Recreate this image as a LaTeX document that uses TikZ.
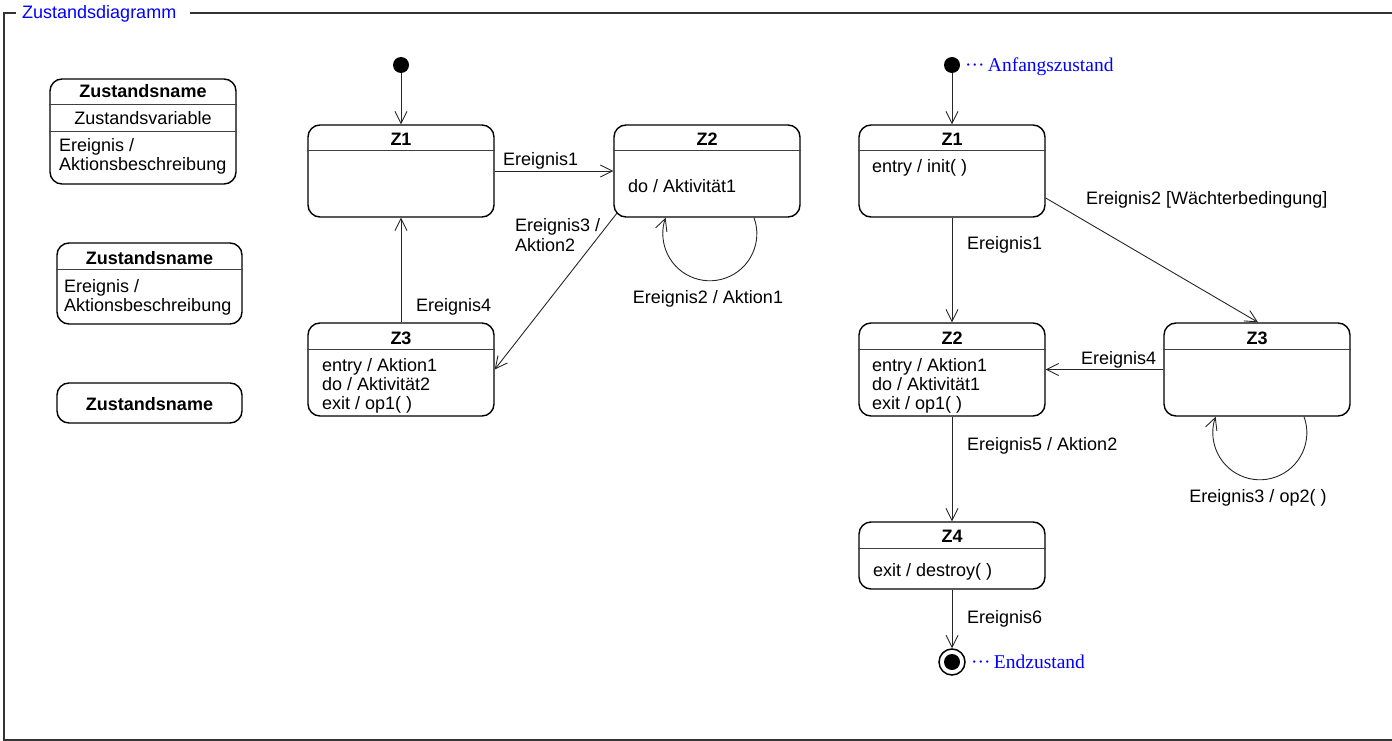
\documentclass[tikz,border=0pt]{standalone}
\usepackage{fontspec}
\setmainfont{Liberation Sans}
\newfontfamily\annofont{Liberation Serif}
\usetikzlibrary{arrows.meta}
\tikzset{
  state/.style={draw=black, line width=1.4pt, rounded corners=12pt, minimum width=186pt, inner sep=0pt},
  sep/.style={draw=black!75, line width=0.9pt},
  arr/.style={draw=black!85, line width=0.9pt, -{Straight Barb[length=12pt,width=12pt,line width=0.9pt]}},
  lbl/.style={anchor=base west, inner sep=0pt},
  ctr/.style={anchor=base, inner sep=0pt},
  ttl/.style={anchor=base, inner sep=0pt, font=\fontsize{18}{20}\selectfont\bfseries},
  dot/.style={circle, fill=black, minimum size=16pt, inner sep=0pt},
  frame/.style={draw=black!80, line width=1.5pt},
  anno/.style={anchor=base west, inner sep=0pt, text=blue, font=\annofont\fontsize{19.5}{22}\selectfont},
}
\begin{document}
\begin{tikzpicture}[x=1pt,y=1pt,font=\fontsize{18}{20}\selectfont]
\useasboundingbox (0,0) rectangle (1392,-741);
% frame
\draw[frame] (16,-13) -- (4,-13) -- (4,-740) -- (1392,-740);
\draw[frame] (190,-13) -- (1392,-13);
\node[lbl, text=blue] (frametitle) at (22,-19) {Zustandsdiagramm};

% legend
\node[state, minimum height=105pt] (B1) at (143,-131.5) {};
\draw[sep] ([yshift=-26pt]B1.north west) -- ([yshift=-26pt]B1.north east);
\draw[sep] ([yshift=-53pt]B1.north west) -- ([yshift=-53pt]B1.north east);
\node[ttl] (b1t) at (143,-98) {Zustandsname};
\node[ctr] (b1v) at (143,-125) {Zustandsvariable};
\node[lbl] (b1a) at (59,-151) {Ereignis /};
\node[lbl] (b1b) at (59,-171) {Aktionsbeschreibung};

\node[state, minimum width=185pt, minimum height=81pt] (B2) at (149.5,-283.5) {};
\draw[sep] ([yshift=-27pt]B2.north west) -- ([yshift=-27pt]B2.north east);
\node[ttl] (b2t) at (149.5,-264) {Zustandsname};
\node[lbl] (b2a) at (64,-292) {Ereignis /};
\node[lbl] (b2b) at (64,-311) {Aktionsbeschreibung};

\node[state, minimum width=185pt, minimum height=40pt] (B3) at (149.5,-403) {};
\node[ttl] (b3t) at (149.5,-410) {Zustandsname};

% left diagram
\node[dot] (i1) at (401,-65) {};
\node[state, minimum height=92pt] (L1) at (401,-171) {};
\draw[sep] ([yshift=-26pt]L1.north west) -- ([yshift=-26pt]L1.north east);
\node[ttl] (l1t) at (401,-146) {Z1};

\node[state, minimum height=92pt] (L2) at (707,-171) {};
\draw[sep] ([yshift=-26pt]L2.north west) -- ([yshift=-26pt]L2.north east);
\node[ttl] (l2t) at (707,-146) {Z2};
\node[lbl] (l2a) at (628,-192) {do / Aktivität1};

\node[state, minimum height=93pt] (L3) at (401,-369.5) {};
\draw[sep] ([yshift=-27pt]L3.north west) -- ([yshift=-27pt]L3.north east);
\node[ttl] (l3t) at (401,-344) {Z3};
\node[lbl] (l3a) at (322,-371) {entry / Aktion1};
\node[lbl] (l3b) at (322,-390) {do / Aktivität2};
\node[lbl] (l3c) at (322,-409) {exit / op1( )};

\draw[arr] (i1) -- (L1);
\draw[arr] (L1) -- (L2);
\node[lbl] (e1l) at (503,-165) {Ereignis1};
\draw[arr] (L3) -- (L1);
\node[lbl] (e4l) at (416,-311) {Ereignis4};
\draw[arr] ([shift={(4pt,5pt)}]L2.south west) -- (L3.east);
\node[lbl] (e3l) at (515,-231) {Ereignis3 /};
\node[lbl] (e3m) at (515,-251) {Aktion2};
\draw[arr] ([xshift=47pt]L2.south) arc[start angle=20,end angle=-200,radius=47];
\node[ctr] (e2l) at (708,-303) {Ereignis2 / Aktion1};

% right diagram
\node[dot] (i2) at (952,-65) {};
\node[anno] (anf) at (965,-72) {···\,Anfangszustand};

\node[state, minimum height=92pt] (R1) at (952,-171) {};
\draw[sep] ([yshift=-26pt]R1.north west) -- ([yshift=-26pt]R1.north east);
\node[ttl] (r1t) at (952,-146) {Z1};
\node[lbl] (r1a) at (872,-172) {entry / init( )};

\node[state, minimum height=93pt] (R2) at (952,-369.5) {};
\draw[sep] ([yshift=-27pt]R2.north west) -- ([yshift=-27pt]R2.north east);
\node[ttl] (r2t) at (952,-344) {Z2};
\node[lbl] (r2a) at (872,-371) {entry / Aktion1};
\node[lbl] (r2b) at (872,-390) {do / Aktivität1};
\node[lbl] (r2c) at (872,-409) {exit / op1( )};

\node[state, minimum height=93pt] (R3) at (1257,-369.5) {};
\draw[sep] ([yshift=-27pt]R3.north west) -- ([yshift=-27pt]R3.north east);
\node[ttl] (r3t) at (1257,-344) {Z3};

\node[state, minimum height=67pt] (R4) at (952,-555.5) {};
\draw[sep] ([yshift=-27pt]R4.north west) -- ([yshift=-27pt]R4.north east);
\node[ttl] (r4t) at (952,-542) {Z4};
\node[lbl] (r4a) at (873,-576) {exit / destroy( )};

\node[circle, draw=black, line width=1.5pt, minimum size=26pt, inner sep=0pt] (f) at (952,-662) {};
\node[circle, fill=black, minimum size=16pt, inner sep=0pt] (fi) at (f) {};
\node[anno] (end) at (971,-668) {···\,Endzustand};

\draw[arr] (i2) -- (R1);
\draw[arr] (R1) -- (R2);
\node[lbl] (re1) at (967,-249) {Ereignis1};
\draw[arr] ([yshift=-27pt]R1.east) -- ([xshift=1pt]R3.north);
\node[lbl] (re2) at (1086,-204) {Ereignis2 [Wächterbedingung]};
\draw[arr] (R3) -- (R2);
\node[lbl] (re4) at (1081,-364) {Ereignis4};
\draw[arr] ([xshift=47pt]R3.south) arc[start angle=20,end angle=-200,radius=47];
\node[ctr] (re3) at (1258,-502) {Ereignis3 / op2( )};
\draw[arr] (R2) -- (R4);
\node[lbl] (re5) at (967,-450) {Ereignis5 / Aktion2};
\draw[arr] (R4) -- (f);
\node[lbl] (re6) at (967,-623) {Ereignis6};
\end{tikzpicture}
\end{document}
